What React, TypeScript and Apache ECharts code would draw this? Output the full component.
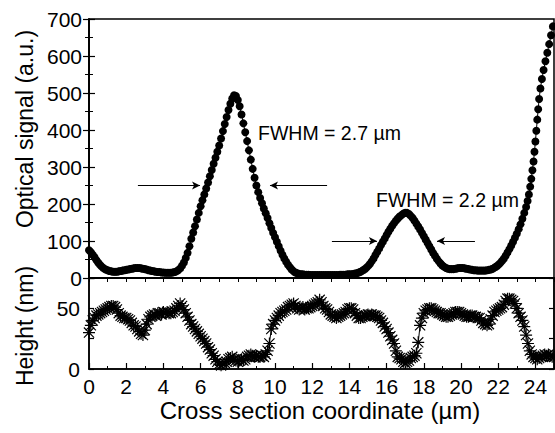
import React, { useEffect, useRef } from "react";
import * as echarts from "echarts";

// Optical signal (a.u.) vs cross-section coordinate (µm)
const opticalSignal: [number, number][] = [
  [0.0, 75], [0.1, 70], [0.2, 63], [0.3, 56], [0.4, 48], [0.5, 41], [0.6, 35], [0.7, 30], [0.8, 26], [0.9, 23],
  [1.0, 21], [1.1, 19], [1.2, 18], [1.3, 17], [1.4, 17], [1.5, 17], [1.6, 18], [1.7, 19], [1.8, 20], [1.9, 21],
  [2.0, 22], [2.1, 23], [2.2, 24], [2.3, 25], [2.4, 26], [2.5, 27], [2.6, 27], [2.7, 27], [2.8, 26], [2.9, 25],
  [3.0, 24], [3.1, 23], [3.2, 21], [3.3, 20], [3.4, 19], [3.5, 18], [3.6, 17], [3.7, 16], [3.8, 16], [3.9, 15],
  [4.0, 15], [4.1, 14], [4.2, 14], [4.3, 14], [4.4, 14], [4.5, 15], [4.6, 16], [4.7, 18], [4.8, 21], [4.9, 26],
  [5.0, 33], [5.1, 42], [5.2, 54], [5.3, 68], [5.4, 86], [5.5, 106], [5.6, 123], [5.7, 140], [5.8, 158], [5.9, 176],
  [6.0, 194], [6.1, 210], [6.2, 226], [6.3, 242], [6.4, 258], [6.5, 275], [6.6, 292], [6.7, 309], [6.8, 325], [6.9, 341],
  [7.0, 358], [7.1, 377], [7.2, 397], [7.3, 416], [7.4, 435], [7.5, 454], [7.6, 471], [7.7, 485], [7.8, 494], [7.9, 492],
  [8.0, 481], [8.1, 464], [8.2, 442], [8.3, 418], [8.4, 394], [8.5, 370], [8.6, 345], [8.7, 320], [8.8, 295], [8.9, 271],
  [9.0, 250], [9.1, 232], [9.2, 216], [9.3, 202], [9.4, 188], [9.5, 175], [9.6, 162], [9.7, 148], [9.8, 135], [9.9, 122],
  [10.0, 110], [10.1, 98], [10.2, 86], [10.3, 74], [10.4, 63], [10.5, 53], [10.6, 44], [10.7, 36], [10.8, 29], [10.9, 23],
  [11.0, 18], [11.1, 15], [11.2, 13], [11.3, 11], [11.4, 10], [11.5, 10], [11.6, 9], [11.7, 9], [11.8, 9], [11.9, 8],
  [12.0, 8], [12.1, 8], [12.2, 8], [12.3, 8], [12.4, 8], [12.5, 8], [12.6, 8], [12.7, 8], [12.8, 8], [12.9, 8],
  [13.0, 8], [13.1, 8], [13.2, 8], [13.3, 8], [13.4, 8], [13.5, 9], [13.6, 9], [13.7, 9], [13.8, 9], [13.9, 10],
  [14.0, 10], [14.1, 10], [14.2, 11], [14.3, 12], [14.4, 13], [14.5, 15], [14.6, 17], [14.7, 20], [14.8, 23], [14.9, 27],
  [15.0, 32], [15.1, 38], [15.2, 45], [15.3, 53], [15.4, 62], [15.5, 71], [15.6, 80], [15.7, 89], [15.8, 98], [15.9, 107],
  [16.0, 116], [16.1, 125], [16.2, 133], [16.3, 141], [16.4, 148], [16.5, 155], [16.6, 161], [16.7, 166], [16.8, 170], [16.9, 174],
  [17.0, 176], [17.1, 176], [17.2, 173], [17.3, 168], [17.4, 162], [17.5, 155], [17.6, 147], [17.7, 139], [17.8, 131], [17.9, 122],
  [18.0, 113], [18.1, 104], [18.2, 95], [18.3, 86], [18.4, 77], [18.5, 68], [18.6, 60], [18.7, 52], [18.8, 45], [18.9, 39],
  [19.0, 34], [19.1, 30], [19.2, 27], [19.3, 25], [19.4, 24], [19.5, 24], [19.6, 24], [19.7, 25], [19.8, 26], [19.9, 27],
  [20.0, 27], [20.1, 27], [20.2, 26], [20.3, 25], [20.4, 24], [20.5, 23], [20.6, 22], [20.7, 21], [20.8, 21], [20.9, 20],
  [21.0, 20], [21.1, 20], [21.2, 20], [21.3, 20], [21.4, 21], [21.5, 22], [21.6, 23], [21.7, 25], [21.8, 28], [21.9, 31],
  [22.0, 35], [22.1, 40], [22.2, 46], [22.3, 52], [22.4, 60], [22.5, 69], [22.6, 78], [22.7, 88], [22.8, 98], [22.9, 109],
  [23.0, 120], [23.1, 132], [23.2, 145], [23.3, 160], [23.4, 176], [23.5, 192], [23.58, 208], [23.65, 226], [23.72, 247], [23.78, 268],
  [23.84, 291], [23.9, 315], [23.95, 341], [24.0, 369], [24.05, 398], [24.1, 428], [24.15, 456], [24.2, 484], [24.27, 512], [24.35, 538],
  [24.44, 562], [24.54, 586], [24.64, 609], [24.74, 632], [24.84, 656], [24.94, 680],
];

// Height (nm) vs cross-section coordinate (µm)
const heightProfile: [number, number][] = [
  [0.0, 30], [0.1, 36], [0.2, 40], [0.3, 42], [0.4, 44], [0.5, 45], [0.6, 46], [0.7, 47], [0.8, 48], [0.9, 49],
  [1.0, 50], [1.1, 51], [1.2, 52], [1.3, 52], [1.4, 51], [1.5, 49], [1.6, 46], [1.7, 44], [1.8, 43], [1.9, 42],
  [2.0, 42], [2.1, 41], [2.2, 40], [2.3, 38], [2.4, 36], [2.5, 35], [2.6, 33], [2.7, 31], [2.8, 29], [2.9, 28],
  [3.0, 32], [3.1, 37], [3.2, 41], [3.3, 43], [3.4, 44], [3.5, 45], [3.6, 44], [3.7, 46], [3.8, 46], [3.9, 45],
  [4.0, 47], [4.1, 46], [4.2, 47], [4.3, 46], [4.4, 46], [4.5, 47], [4.6, 48], [4.7, 50], [4.8, 52], [4.9, 54],
  [5.0, 52], [5.1, 49], [5.2, 46], [5.3, 43], [5.4, 40], [5.5, 37], [5.6, 35], [5.7, 33], [5.8, 31], [5.9, 29],
  [6.0, 27], [6.1, 25], [6.2, 23], [6.3, 21], [6.4, 18], [6.5, 16], [6.6, 13], [6.7, 11], [6.8, 8], [6.9, 6],
  [7.0, 4], [7.1, 3], [7.2, 4], [7.3, 5], [7.4, 6], [7.5, 8], [7.6, 9], [7.7, 10], [7.8, 8], [7.9, 7],
  [8.0, 6], [8.1, 7], [8.2, 8], [8.3, 7], [8.4, 8], [8.5, 10], [8.6, 11], [8.7, 12], [8.8, 11], [8.9, 10],
  [9.0, 11], [9.1, 10], [9.2, 10], [9.3, 11], [9.4, 10], [9.5, 12], [9.6, 15], [9.7, 21], [9.8, 33], [9.9, 37],
  [10.0, 40], [10.1, 42], [10.2, 44], [10.3, 46], [10.4, 47], [10.5, 48], [10.6, 49], [10.7, 51], [10.8, 52], [10.9, 53],
  [11.0, 54], [11.1, 52], [11.2, 50], [11.3, 49], [11.4, 50], [11.5, 51], [11.6, 49], [11.7, 50], [11.8, 50], [11.9, 51],
  [12.0, 52], [12.1, 53], [12.2, 54], [12.3, 55], [12.4, 57], [12.5, 55], [12.6, 52], [12.7, 50], [12.8, 49], [12.9, 47],
  [13.0, 45], [13.1, 44], [13.2, 43], [13.3, 42], [13.4, 43], [13.5, 44], [13.6, 45], [13.7, 46], [13.8, 47], [13.9, 49],
  [14.0, 50], [14.1, 50], [14.2, 49], [14.3, 46], [14.4, 44], [14.5, 42], [14.6, 42], [14.7, 43], [14.8, 44], [14.9, 44],
  [15.0, 45], [15.1, 44], [15.2, 45], [15.3, 44], [15.4, 44], [15.5, 43], [15.6, 42], [15.7, 40], [15.8, 38], [15.9, 35],
  [16.0, 33], [16.1, 30], [16.2, 27], [16.3, 24], [16.4, 21], [16.5, 15], [16.6, 10], [16.7, 9], [16.8, 8], [16.9, 6],
  [17.0, 5], [17.1, 6], [17.2, 7], [17.3, 9], [17.4, 10], [17.5, 11], [17.6, 13], [17.7, 22], [17.8, 36], [17.9, 42],
  [18.0, 46], [18.1, 48], [18.2, 49], [18.3, 50], [18.4, 50], [18.5, 49], [18.6, 48], [18.7, 47], [18.8, 46], [18.9, 46],
  [19.0, 45], [19.1, 44], [19.2, 43], [19.3, 43], [19.4, 44], [19.5, 45], [19.6, 46], [19.7, 47], [19.8, 47], [19.9, 47],
  [20.0, 46], [20.1, 45], [20.2, 44], [20.3, 43], [20.4, 43], [20.5, 44], [20.6, 44], [20.7, 43], [20.8, 43], [20.9, 42],
  [21.0, 42], [21.1, 40], [21.2, 38], [21.3, 37], [21.4, 36], [21.5, 37], [21.6, 41], [21.7, 44], [21.8, 47], [21.9, 48],
  [22.0, 49], [22.1, 50], [22.2, 51], [22.3, 53], [22.4, 56], [22.5, 58], [22.6, 58], [22.7, 57], [22.8, 56], [22.9, 54],
  [23.0, 50], [23.1, 46], [23.2, 43], [23.3, 40], [23.4, 35], [23.5, 28], [23.6, 21], [23.7, 15], [23.8, 12], [23.9, 10],
  [24.0, 9], [24.1, 8], [24.2, 9], [24.3, 10], [24.4, 11], [24.5, 12], [24.6, 11], [24.7, 12], [24.8, 11], [24.9, 10],
  [25.0, 10],
];

// FWHM arrows: [start, end] in data coordinates (µm, a.u.)
const fwhmArrows: [number, number, number, number][] = [
  [2.63, 250, 5.97, 250],
  [12.8, 250, 9.73, 250],
  [13.06, 100, 15.48, 100],
  [20.75, 100, 18.71, 100],
];

const xTickLabels = ["0", "2", "4", "6", "8", "10", "12", "14", "16", "18", "20", "22", "24"];
const heightTickLabels = ["0", "50"];

const FONT = "Arial, 'Liberation Sans', Helvetica, sans-serif";
const ASTERISK =
  "path://M9 0H11V20H9Z M0 9H20V11H0Z M2.2 0.8L19.2 17.8L17.8 19.2L0.8 2.2Z M17.8 0.8L19.2 2.2L2.2 19.2L0.8 17.8Z";

export default function App() {
  const ref = useRef<HTMLDivElement>(null);
  useEffect(() => {
    if (!ref.current) return;
    const chart = echarts.init(ref.current, undefined, { renderer: "svg" });
    const black = "#000";
    const labelStyle = { color: black, fontSize: 21, fontFamily: FONT };
    const option: any = {
      animation: false,
      backgroundColor: "#fff",
      grid: [
        { left: 89, top: 19, width: 465, height: 259, show: true, borderColor: black, borderWidth: 1.5, backgroundColor: "transparent" },
        { left: 89, top: 278, width: 465, height: 91, show: true, borderColor: black, borderWidth: 1.5, backgroundColor: "transparent" },
      ],
      xAxis: [
        {
          gridIndex: 0, type: "value", min: 0, max: 25, position: "bottom",
          axisLine: { show: true, lineStyle: { color: black, width: 2 } },
          axisTick: { show: false }, axisLabel: { show: false }, splitLine: { show: false },
        },
        {
          gridIndex: 0, type: "value", min: 0, max: 25, interval: 1, position: "top",
          axisLine: { show: true, lineStyle: { color: black, width: 1.5 } },
          axisTick: { show: true, inside: true, length: 4, lineStyle: { color: black, width: 1 } },
          axisLabel: { show: false }, splitLine: { show: false },
        },
        {
          gridIndex: 1, type: "value", min: 0, max: 25, interval: 2, position: "bottom",
          axisLine: { show: true, lineStyle: { color: black, width: 1.5 } },
          axisTick: { show: true, inside: true, length: 6, lineStyle: { color: black, width: 1.2 } },
          minorTick: { show: true, splitNumber: 2, length: 3, lineStyle: { color: black, width: 1 } },
          axisLabel: {
            ...labelStyle, margin: 7, showMaxLabel: false,
            formatter: (v: number) => (xTickLabels.includes(String(v)) ? String(v) : ""),
          },
          splitLine: { show: false },
        },
      ],
      yAxis: [
        {
          gridIndex: 0, type: "value", min: 0, max: 700, interval: 100, position: "left",
          axisLine: { show: true, lineStyle: { color: black, width: 1.5 } },
          axisTick: { show: true, inside: true, length: 6, lineStyle: { color: black, width: 1.2 } },
          minorTick: { show: true, splitNumber: 2, length: 4, lineStyle: { color: black, width: 1 } },
          axisLabel: { ...labelStyle, margin: 7 },
          splitLine: { show: false },
        },
        {
          gridIndex: 0, type: "value", min: 0, max: 700, interval: 100, position: "right",
          axisLine: { show: true, lineStyle: { color: black, width: 1.5 } },
          axisTick: { show: true, inside: true, length: 6, lineStyle: { color: black, width: 1.2 } },
          minorTick: { show: true, splitNumber: 2, length: 4, lineStyle: { color: black, width: 1 } },
          axisLabel: { show: false }, splitLine: { show: false },
        },
        {
          gridIndex: 1, type: "value", min: 0, max: 75, interval: 25, position: "left",
          axisLine: { show: true, lineStyle: { color: black, width: 1.5 } },
          axisTick: { show: true, inside: true, length: 5, lineStyle: { color: black, width: 1.2 } },
          axisLabel: {
            ...labelStyle, margin: 9,
            formatter: (v: number) => (heightTickLabels.includes(String(v)) ? String(v) : ""),
          },
          splitLine: { show: false },
        },
        {
          gridIndex: 1, type: "value", min: 0, max: 75, interval: 25, position: "right",
          axisLine: { show: true, lineStyle: { color: black, width: 1.5 } },
          axisTick: { show: true, inside: true, length: 5, lineStyle: { color: black, width: 1.2 } },
          axisLabel: { show: false }, splitLine: { show: false },
        },
      ],
      series: [
        {
          type: "line", xAxisIndex: 0, yAxisIndex: 0, data: opticalSignal,
          showSymbol: true, showAllSymbol: true, symbol: "circle", symbolSize: 8,
          itemStyle: { color: black }, lineStyle: { color: black, width: 1 },
          silent: true, clip: true,
          markLine: {
            silent: true, symbol: ["none", "arrow"], symbolSize: [6, 8],
            label: { show: false },
            lineStyle: { color: black, width: 1, type: "solid" },
            data: fwhmArrows.map(([x1, y1, x2, y2]) => [{ coord: [x1, y1] }, { coord: [x2, y2] }]),
          },
        },
        {
          type: "line", xAxisIndex: 2, yAxisIndex: 2, data: heightProfile,
          showSymbol: true, showAllSymbol: true, symbol: ASTERISK, symbolSize: 12,
          itemStyle: { color: black }, lineStyle: { color: black, width: 1 },
          silent: true, clip: true,
        },
      ],
      graphic: [
        {
          type: "text", x: 25, y: 129, rotation: Math.PI / 2,
          style: { text: "Optical signal (a.u.)", fontSize: 23, fontFamily: FONT, fill: black, textAlign: "center", textVerticalAlign: "middle" },
        },
        {
          type: "text", x: 25, y: 326, rotation: Math.PI / 2,
          style: { text: "Height (nm)", fontSize: 23, fontFamily: FONT, fill: black, textAlign: "center", textVerticalAlign: "middle" },
        },
        {
          type: "text", x: 320, y: 410,
          style: { text: "Cross section coordinate (\u00b5m)", fontSize: 24, fontFamily: FONT, fill: black, textAlign: "center", textVerticalAlign: "middle" },
        },
        {
          type: "text", x: 258, y: 133,
          style: { text: "FWHM = 2.7 \u00b5m", fontSize: 19.5, fontFamily: FONT, fill: black, textAlign: "left", textVerticalAlign: "middle" },
        },
        {
          type: "text", x: 376, y: 200,
          style: { text: "FWHM = 2.2 \u00b5m", fontSize: 19.5, fontFamily: FONT, fill: black, textAlign: "left", textVerticalAlign: "middle" },
        },
      ],
    };
    chart.setOption(option);
    return () => chart.dispose();
  }, []);
  return (
    <div
      ref={ref}
      style={{ position: "fixed", left: 0, top: 0, width: 555, height: 433, background: "#fff" }}
    />
  );
}
